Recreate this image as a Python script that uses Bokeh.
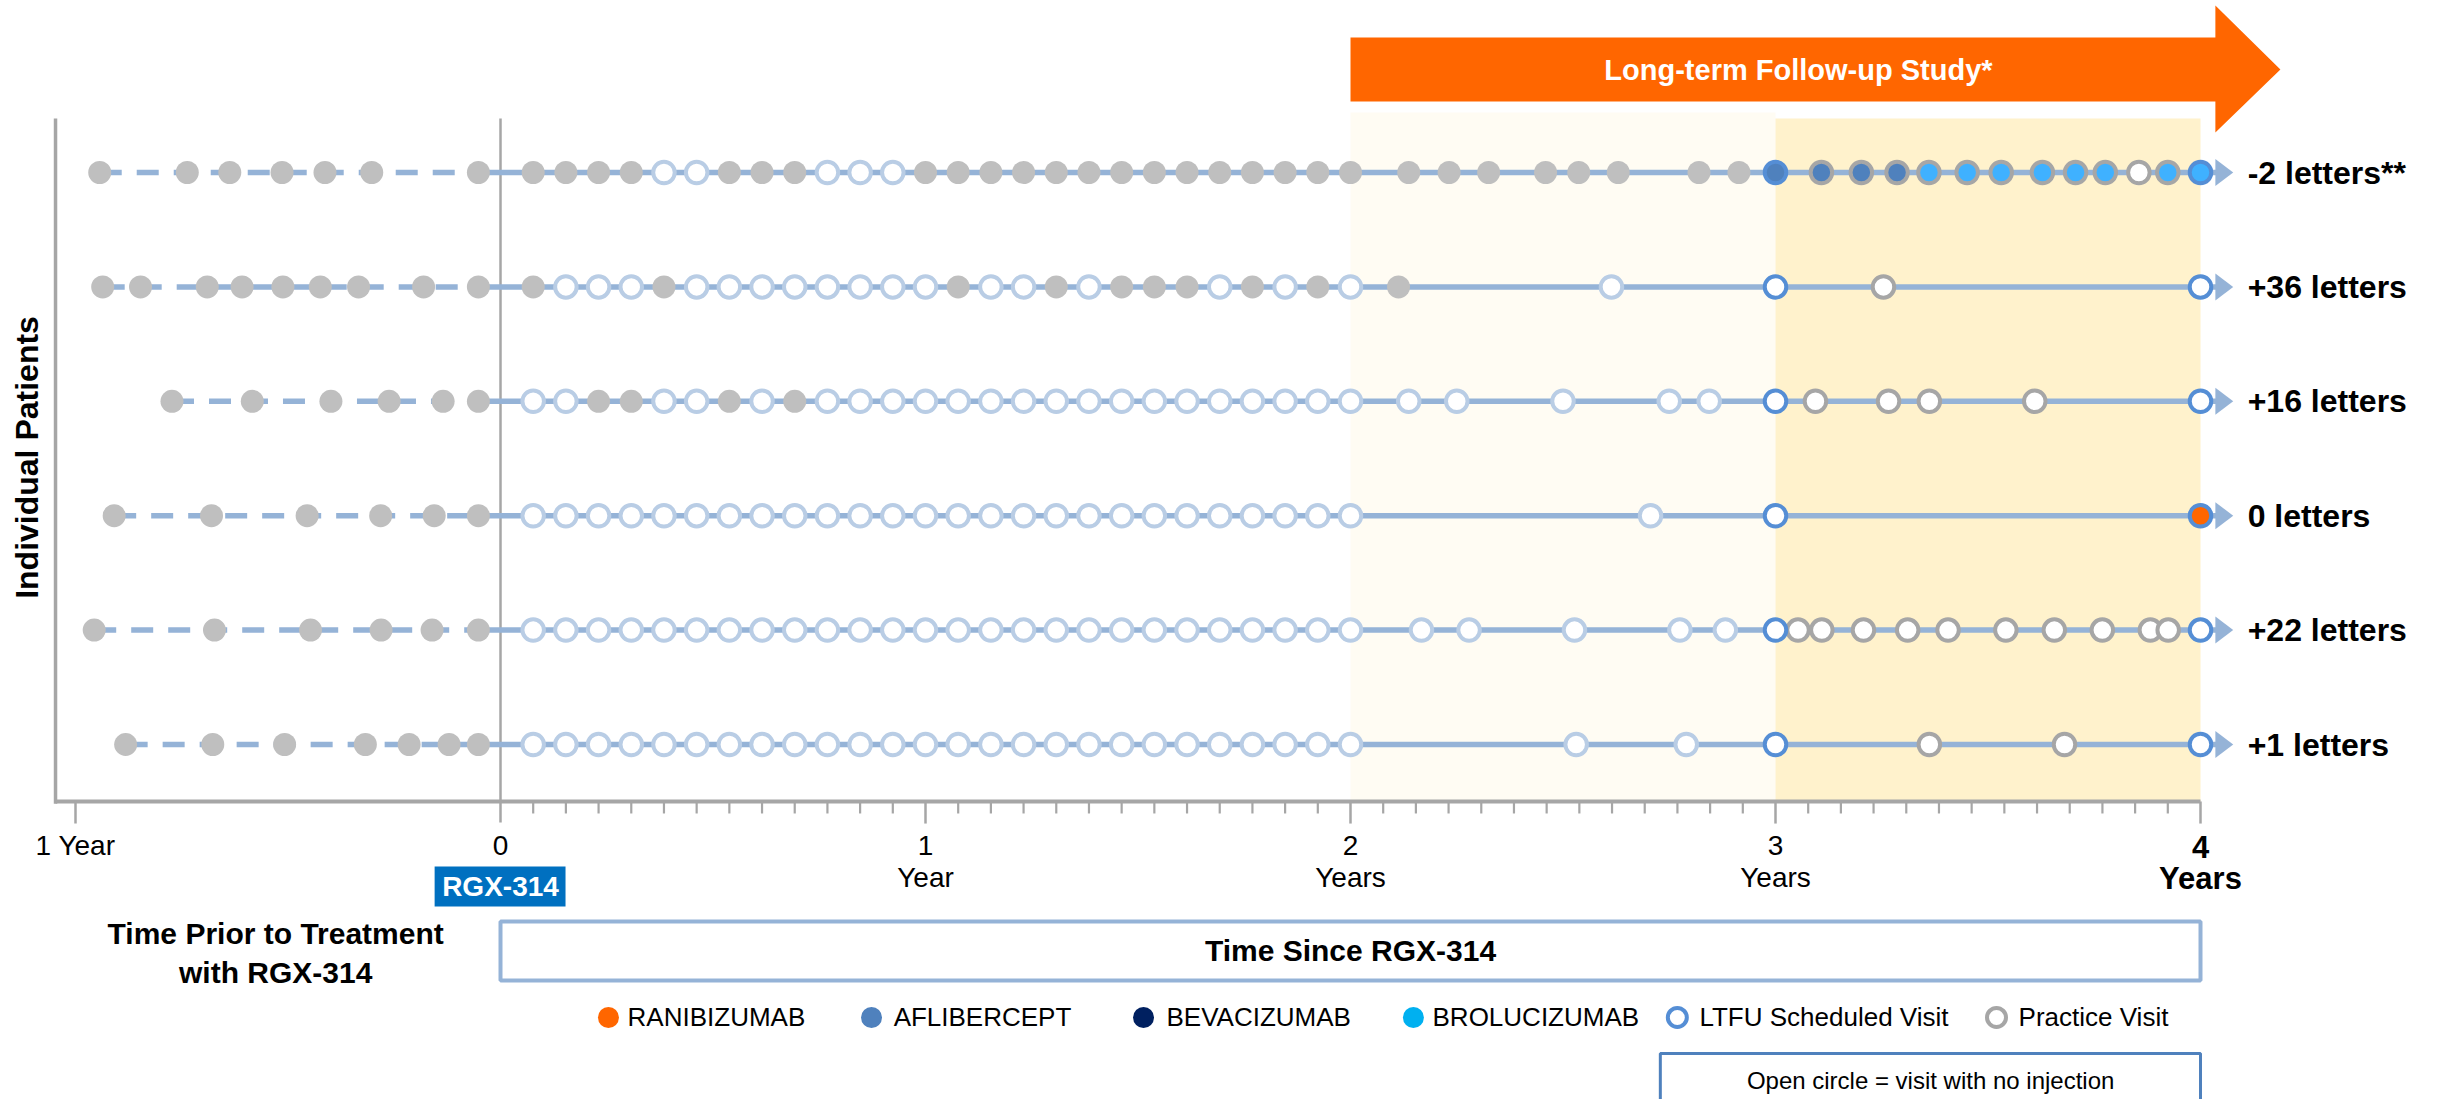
import math

from bokeh.core.properties import value
from bokeh.embed import file_html
from bokeh.models import ColumnDataSource, Range1d
from bokeh.plotting import figure
from bokeh.resources import INLINE

FONT = "Liberation Sans"

# ---------------------------------------------------------------- data
patient_labels = ["-2 letters**", "+36 letters", "+16 letters", "0 letters", "+22 letters", "+1 letters"]
patient_rows = [6, 5, 4, 3, 2, 1]  # top to bottom

# injections before RGX-314 (years relative to treatment)
pre_treatment_injections = [
    [-0.943, -0.737, -0.637, -0.514, -0.413, -0.303, -0.052],
    [-0.936, -0.847, -0.690, -0.608, -0.512, -0.424, -0.334, -0.181, -0.052],
    [-0.773, -0.584, -0.399, -0.262, -0.135, -0.052],
    [-0.909, -0.680, -0.455, -0.282, -0.156, -0.052],
    [-0.956, -0.673, -0.447, -0.281, -0.161, -0.052],
    [-0.882, -0.677, -0.508, -0.318, -0.215, -0.121, -0.052],
]

# parent-study visits (weeks after RGX-314)
study_visit_weeks = [4, 8, 12, 16, 20, 24, 28, 32, 36, 40, 44, 48, 52,
                     56, 60, 64, 68, 72, 76, 80, 84, 88, 92, 96, 100, 104]
weeks_per_year = 52

# parent-study visits at which an injection was given (week numbers)
study_injection_weeks = [
    [4, 8, 12, 16, 28, 32, 36, 52, 56, 60, 64, 68, 72, 76, 80, 84, 88, 92, 96, 100, 104],
    [4, 20, 56, 68, 76, 80, 84, 92, 100],
    [12, 16, 28, 36],
    [],
    [],
    [],
]

# follow-up between years 2 and 3
followup_injections = [
    [2.137, 2.232, 2.325, 2.459, 2.537, 2.630, 2.820, 2.914],
    [2.113],
    [],
    [],
    [],
    [],
]
followup_visits_no_injection = [
    [],
    [2.614],
    [2.137, 2.250, 2.500, 2.750, 2.844],
    [2.706],
    [2.167, 2.279, 2.527, 2.775, 2.882],
    [2.531, 2.790],
]

# practice visits during years 3-4 and the drug injected (None = no injection)
practice_visits = [
    [3.108, 3.202, 3.286, 3.361, 3.451, 3.531, 3.628, 3.706, 3.776, 3.855, 3.923],
    [3.254],
    [3.094, 3.266, 3.362, 3.610],
    [],
    [3.053, 3.109, 3.207, 3.311, 3.406, 3.542, 3.656, 3.769, 3.882, 3.924],
    [3.362, 3.680],
]
practice_drugs = [
    ["AFLIBERCEPT", "AFLIBERCEPT", "AFLIBERCEPT", "BROLUCIZUMAB", "BROLUCIZUMAB", "BROLUCIZUMAB",
     "BROLUCIZUMAB", "BROLUCIZUMAB", "BROLUCIZUMAB", None, "BROLUCIZUMAB"],
    [None],
    [None, None, None, None],
    [],
    [None] * 10,
    [None, None],
]

# scheduled long-term follow-up visits
ltfu_visits = [3.0, 4.0]
ltfu_drugs = [
    ["AFLIBERCEPT", "BROLUCIZUMAB"],
    [None, None],
    [None, None],
    [None, "RANIBIZUMAB"],
    [None, None],
    [None, None],
]

axis_major_ticks = [-1, 0, 1, 2, 3, 4]
axis_tick_labels = ["1 Year", "0", "1\nYear", "2\nYears", "3\nYears", "4\nYears"]

legend_drugs = ["RANIBIZUMAB", "AFLIBERCEPT", "BEVACIZUMAB", "BROLUCIZUMAB"]
legend_visits = ["LTFU Scheduled Visit", "Practice Visit"]

# ---------------------------------------------------------------- styles
DRUG_FILL = {"RANIBIZUMAB": "#ff6600", "AFLIBERCEPT": "#4f81bd",
             "BEVACIZUMAB": "#002060", "BROLUCIZUMAB": "#3fb1ff"}
LEGEND_FILL = {"RANIBIZUMAB": "#ff6600", "AFLIBERCEPT": "#4f81bd",
               "BEVACIZUMAB": "#002060", "BROLUCIZUMAB": "#00b0f0"}
GRAY_DOT = "#bfbfbf"
STUDY_RING = "#b9cde5"
LTFU_RING = "#558ed5"
PRACTICE_RING = "#a6a6a6"
TIMELINE = "#95b3d7"
AXIS_GRAY = "#a6a6a6"

AXIS_Y = 0.502          # horizontal axis line
PLOT_TOP = 6.472        # top of the vertical axis
X_LEFT = -1.047         # vertical axis position

p = figure(width=2440, height=1099,
           x_range=Range1d(-500 / 425, 1940 / 425),
           y_range=Range1d(1 - 355 / 114.4, 1 + 744 / 114.4),
           x_axis_type=None, y_axis_type=None,
           toolbar_location=None, output_backend="svg",
           min_border=0, outline_line_color=None, title=None)
p.background_fill_color = "white"
p.border_fill_color = "white"


def txt(x, y, text, size, bold=False, color="black", align="center", angle=0.0):
    p.text(x=x, y=y, text=text, text_font=value(FONT), text_font_size=size,
           text_font_style="bold" if bold else "normal", text_color=color,
           text_align=align, text_baseline="middle", angle=angle)


# follow-up study shading
p.quad(left=[2], right=[3], bottom=[AXIS_Y], top=[6.524], fill_color="#fffcf3", line_color=None)
p.quad(left=[3], right=[4], bottom=[AXIS_Y], top=[PLOT_TOP], fill_color="#fff2cc", line_color=None)

# long-term follow-up arrow
p.patch(x=[2.0, 4.035, 4.035, 4.188, 4.035, 4.035, 2.0],
        y=[7.180, 7.180, 7.460, 6.900, 6.350, 6.621, 6.621],
        fill_color="#ff6600", line_color=None)
txt([3.054], [6.90], ["Long-term Follow-up Study*"], "29px", bold=True, color="white")

# axes
p.segment(x0=[X_LEFT], y0=[AXIS_Y - 0.02], x1=[X_LEFT], y1=[PLOT_TOP], line_color=AXIS_GRAY, line_width=3.5)
p.segment(x0=[X_LEFT], y0=[AXIS_Y], x1=[4.0], y1=[AXIS_Y], line_color=AXIS_GRAY, line_width=4)
p.segment(x0=[0], y0=[0.318], x1=[0], y1=[PLOT_TOP], line_color=AXIS_GRAY, line_width=2.5)
major = [t for t in axis_major_ticks if t != 0]
p.segment(x0=major, y0=[AXIS_Y] * len(major), x1=major, y1=[0.309] * len(major),
          line_color=AXIS_GRAY, line_width=2.5)
minor = [k / 13 for k in range(1, 52) if k % 13]
p.segment(x0=minor, y0=[AXIS_Y] * len(minor), x1=minor, y1=[0.397] * len(minor),
          line_color=AXIS_GRAY, line_width=2.2)

first_lines = [lab.split("\n")[0] for lab in axis_tick_labels]
second_lines = [lab.split("\n")[1] if "\n" in lab else "" for lab in axis_tick_labels]
txt(axis_major_ticks[:-1], [0.117] * 5, first_lines[:-1], "28px")
txt(axis_major_ticks[:-1], [-0.163] * 5, second_lines[:-1], "28px")
txt([axis_major_ticks[-1]] * 2, [0.10, -0.175], [first_lines[-1], second_lines[-1]], "31px", bold=True)

txt([-1.113], [3.509], ["Individual Patients"], "32px", bold=True, angle=math.pi / 2)

# timelines
dashed_xs, dashed_ys, solid_xs, solid_ys, head_xs, head_ys = [], [], [], [], [], []
for pre, y in zip(pre_treatment_injections, patient_rows):
    dashed_xs.append([pre[0], pre[-1]])
    dashed_ys.append([y, y])
    solid_xs.append([pre[-1], 4.04])
    solid_ys.append([y, y])
    head_xs.append([4.035, 4.077, 4.035])
    head_ys.append([y + 0.118, y, y - 0.118])
p.multi_line(xs=dashed_xs, ys=dashed_ys, line_color=TIMELINE, line_width=5.5, line_dash="22 15")
p.multi_line(xs=solid_xs, ys=solid_ys, line_color=TIMELINE, line_width=5.5)
p.patches(xs=head_xs, ys=head_ys, fill_color=TIMELINE, line_color=None)

# visit markers
dots = {"x": [], "y": []}
rings = {"x": [], "y": [], "fill": [], "line": []}
for i, y in enumerate(patient_rows):
    for t in pre_treatment_injections[i] + followup_injections[i]:
        dots["x"].append(t)
        dots["y"].append(y)
    for w in study_visit_weeks:
        if w in study_injection_weeks[i]:
            dots["x"].append(w / weeks_per_year)
            dots["y"].append(y)
        else:
            rings["x"].append(w / weeks_per_year)
            rings["y"].append(y)
            rings["fill"].append("white")
            rings["line"].append(STUDY_RING)
    for t in followup_visits_no_injection[i]:
        rings["x"].append(t)
        rings["y"].append(y)
        rings["fill"].append("white")
        rings["line"].append(STUDY_RING)
    for t, d in zip(practice_visits[i], practice_drugs[i]):
        rings["x"].append(t)
        rings["y"].append(y)
        rings["fill"].append(DRUG_FILL[d] if d else "white")
        rings["line"].append(PRACTICE_RING)
    for t, d in zip(ltfu_visits, ltfu_drugs[i]):
        rings["x"].append(t)
        rings["y"].append(y)
        rings["fill"].append(DRUG_FILL[d] if d else "white")
        rings["line"].append(LTFU_RING)

p.scatter(x="x", y="y", source=ColumnDataSource(dots), size=23, fill_color=GRAY_DOT, line_color=None)
p.scatter(x="x", y="y", source=ColumnDataSource(rings), size=21.5, fill_color="fill",
          line_color="line", line_width=4)

txt([4.111] * len(patient_rows), patient_rows, patient_labels, "32px", bold=True, align="left")

# treatment marker and period captions
p.quad(left=[-0.155], right=[0.153], top=[-0.066], bottom=[-0.416], fill_color="#0070c0", line_color=None)
txt([0], [-0.241], ["RGX-314"], "28px", bold=True, color="white")
txt([-0.529, -0.529], [-0.652, -0.993], ["Time Prior to Treatment", "with RGX-314"], "30px", bold=True)
p.quad(left=[0], right=[4.0], top=[-0.547], bottom=[-1.063], fill_color="white",
       line_color=TIMELINE, line_width=4)
txt([2.0], [-0.801], ["Time Since RGX-314"], "30px", bold=True)

# legend
LEG_Y = -1.386
drug_marker_x = [0.254, 0.873, 1.513, 2.148]
drug_text_x = [0.299, 0.925, 1.567, 2.193]
p.scatter(x=drug_marker_x, y=[LEG_Y] * 4, size=21,
          fill_color=[LEGEND_FILL[d] for d in legend_drugs], line_color=None)
txt(drug_text_x, [LEG_Y] * 4, legend_drugs, "26px", align="left")
p.scatter(x=[2.769, 3.520], y=[LEG_Y] * 2, size=19, fill_color="white",
          line_color=[LTFU_RING, PRACTICE_RING], line_width=4)
txt([2.821, 3.572], [LEG_Y] * 2, legend_visits, "26px", align="left")

p.quad(left=[2.729], right=[4.0], top=[-1.701], bottom=[-2.4], fill_color=None,
       line_color="#4f81bd", line_width=3)
txt([3.365], [-1.937], ["Open circle = visit with no injection"], "24px")

open("out.html", "w").write(file_html(p, INLINE, title="RGX-314 injection timelines"))
